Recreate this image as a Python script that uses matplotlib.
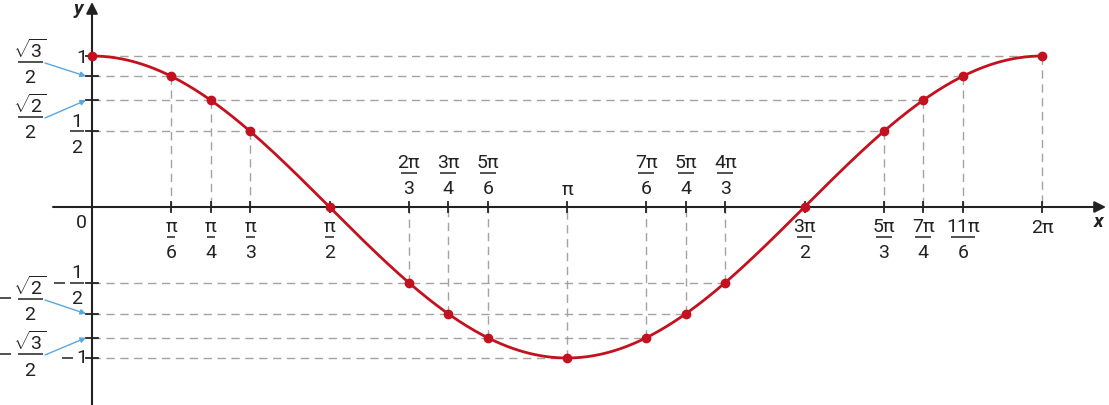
# -*- coding: utf-8 -*-

import numpy as np
import matplotlib.pyplot as plt

plt.rcParams['font.family'] = ['Roboto', 'DejaVu Sans']
plt.rcParams['mathtext.fontset'] = 'custom'
plt.rcParams['mathtext.rm'] = 'Roboto'
plt.rcParams['mathtext.it'] = 'Roboto'

s2 = np.sqrt(2)
s3 = np.sqrt(3)

# points remarquables : angle = num * pi / den
ang_num = [0, 1, 1, 1, 1, 2, 3, 5, 1, 7, 5, 4, 3, 5, 7, 11, 2]
ang_den = [1, 6, 4, 3, 2, 3, 4, 6, 1, 6, 4, 3, 2, 3, 4, 6, 1]
cos_val = [1, s3/2, s2/2, 1/2, 0, -1/2, -s2/2, -s3/2, -1,
           -s3/2, -s2/2, -1/2, 0, 1/2, s2/2, s3/2, 1]

# etiquettes de l'axe des x
lab_num = ['0', 'π', 'π', 'π', 'π', '2π', '3π', '5π', 'π',
           '7π', '5π', '4π', '3π', '5π', '7π', '11π', '2π']
lab_den = ['', '6', '4', '3', '2', '3', '4', '6', '',
           '6', '4', '3', '2', '3', '4', '6', '']

# graduations de l'axe des y
y_ticks = [1, s3/2, s2/2, 1/2, -1/2, -s2/2, -s3/2, -1]

red = '#c4111f'
grey = '#a3a3a3'
ink = '#222222'
blue = '#5aa6e0'
fs = 14

# echelle : pixels <-> unites
X0, Y0 = 92, 207
SX = 950 / (2*np.pi)
SY = 151.0


def dx(p):
    return p / SX


def dy(p):
    return p / SY


def px(X):
    return (X - X0) / SX


def py(Y):
    return (Y0 - Y) / SY


fig = plt.figure(figsize=(11.09, 4.05), dpi=100)
ax = fig.add_axes([0, 0, 1, 1])
ax.set_xlim(px(0), px(1109))
ax.set_ylim(py(405), py(0))
ax.axis('off')


def frac(x, ybar, num, den, w=None):
    if w is None:
        w = 7.5 * max(len(num), len(den)) + 1
    ax.text(x, ybar + dy(4.5), num, ha='center', va='baseline', fontsize=fs, color=ink)
    ax.plot([x - dx(w/2), x + dx(w/2)], [ybar, ybar], color=ink, lw=1.1,
            solid_capstyle='butt')
    ax.text(x, ybar - dy(21.5), den, ha='center', va='baseline', fontsize=fs, color=ink)


def minus(Xc, y, w=11):
    ax.plot([px(Xc - w/2), px(Xc + w/2)], [y, y], color=ink, lw=1.1,
            solid_capstyle='butt')


x_pts = [n * np.pi / d for n, d in zip(ang_num, ang_den)]

# lignes de rappel horizontales (la plus longue pour chaque valeur)
for v in y_ticks:
    xmax = max(x for x, c in zip(x_pts, cos_val) if abs(c - v) < 1e-9)
    ax.plot([0, xmax], [v, v], color=grey, lw=1, ls=(0, (6, 4)), zorder=1)

# lignes de rappel verticales
for x, c in zip(x_pts, cos_val):
    if x > 0 and abs(c) > 1e-9:
        ax.plot([x, x], [c, 0], color=grey, lw=1, ls=(0, (6, 4)), zorder=1)

# axes
ax.annotate('', xy=(px(1106), 0), xytext=(px(53), 0),
            arrowprops=dict(arrowstyle='-|>', color=ink, lw=1.5,
                            mutation_scale=17, shrinkA=0, shrinkB=0), zorder=3)
ax.annotate('', xy=(0, py(2)), xytext=(0, py(405)),
            arrowprops=dict(arrowstyle='-|>', color=ink, lw=1.5,
                            mutation_scale=17, shrinkA=0, shrinkB=0), zorder=3)

# graduations
for x in x_pts[1:]:
    ax.plot([x, x], [dy(-5), dy(5)], color=ink, lw=1.3, zorder=3)
for v in y_ticks:
    ax.plot([dx(-6), dx(6)], [v, v], color=ink, lw=1.3, zorder=3)

# courbe et points
t = np.linspace(0, 2*np.pi, 500)
ax.plot(t, np.cos(t), color=red, lw=2, zorder=4)
ax.plot(x_pts, cos_val, 'o', color=red, ms=6, zorder=5)

# etiquettes de l'axe des x
for x, c, n, d in zip(x_pts, cos_val, lab_num, lab_den):
    if x == 0:
        ax.text(px(81), py(228), n, ha='center', va='baseline', fontsize=fs, color=ink)
    elif c >= -1e-9:
        if d:
            frac(x, py(237), n, d)
        else:
            ax.text(x, py(233), n, ha='center', va='baseline', fontsize=fs, color=ink)
    else:
        if d:
            frac(x, py(173), n, d)
        else:
            ax.text(x, py(195), n, ha='center', va='baseline', fontsize=fs, color=ink)

ax.text(px(1099), py(227), 'x', ha='center', va='baseline', fontsize=fs,
        fontweight='bold', style='italic', color=ink)
ax.text(px(78), py(14), 'y', ha='center', va='baseline', fontsize=fs,
        fontweight='bold', style='italic', color=ink)

# etiquettes de l'axe des y
ax.text(px(87), py(63), '1', ha='right', va='baseline', fontsize=fs, color=ink)
ax.text(px(87), py(363), '1', ha='right', va='baseline', fontsize=fs, color=ink)
minus(67, py(358))
frac(px(77), 1/2, '1', '2', w=14)
frac(px(77), -1/2, '1', '2', w=14)
minus(59, -1/2)

frac(px(30), py(62), r'$\sqrt{3}$', '2', w=25)
frac(px(30), py(117), r'$\sqrt{2}$', '2', w=25)
frac(px(30), py(299), r'$\sqrt{2}$', '2', w=25)
frac(px(30), py(354), r'$\sqrt{3}$', '2', w=25)
minus(5, py(298))
minus(5, py(354))

# fleches bleues vers les graduations
for (xa, ya), v in zip([(45, 63), (45, 118), (45, 300), (45, 355)],
                       [s3/2, s2/2, -s2/2, -s3/2]):
    ax.annotate('', xy=(dx(-6), v), xytext=(px(xa), py(ya)),
                arrowprops=dict(arrowstyle='-|>', color=blue, lw=1,
                                mutation_scale=8, shrinkA=0, shrinkB=0))

fig.savefig('out.png', dpi=100)
